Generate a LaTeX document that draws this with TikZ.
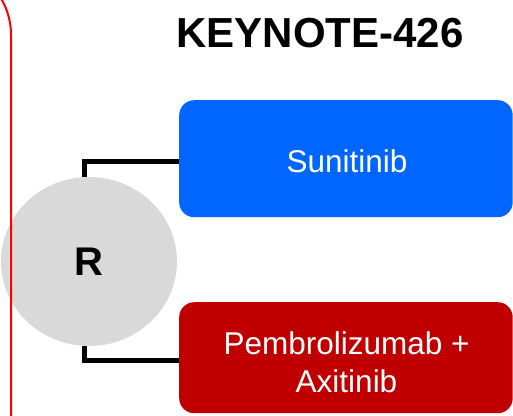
\documentclass[tikz,border=0pt]{standalone}
\usepackage{fontspec}
\setmainfont{Liberation Sans}
\usetikzlibrary{shapes.geometric}
\definecolor{armblue}{RGB}{0,102,255}
\definecolor{armred}{RGB}{192,0,0}
\definecolor{rgray}{RGB}{217,217,217}
\definecolor{framered}{RGB}{255,0,0}
\begin{document}
\begin{tikzpicture}[x=1pt,y=-1pt,
  arm/.style={rounded corners=15pt, minimum width=333.5pt, inner sep=0pt, draw=none},
  lbl/.style={text=white, font=\fontsize{31.5}{37.5}\selectfont, align=center, inner sep=0pt},
  link/.style={line width=4.5pt, black},
  rcircle/.style={ellipse, fill=rgray, minimum width=176pt, minimum height=169pt, inner sep=0pt, font=\bfseries\fontsize{40}{48}\selectfont},
  titletext/.style={font=\bfseries\fontsize{42}{50}\selectfont, anchor=base, inner sep=0pt},
  border/.style={framered, line width=2pt, rounded corners=72pt}]
\useasboundingbox (0,0) rectangle (513,415);
\clip (0,0) rectangle (513,415);
\node[arm, fill=armblue, minimum height=117pt, anchor=north west] (sun) at (179,100) {};
\node[arm, fill=armred, minimum height=111pt, anchor=north west] (pem) at (179,302) {};
\node[rcircle] (R) at (89,261.5) {R};
\node[lbl] (suntxt) at (347,161.7) {Sunitinib};
\node[lbl] (pemtxt) at (346.5,362.2) {Pembrolizumab +\\Axitinib};
\node[titletext] (title) at (320,47) {KEYNOTE-426};
\draw[link] ([xshift=-4.5pt]R.north) |- ([yshift=-3pt]sun.west);
\draw[link] ([xshift=-4.5pt]R.south) |- ([yshift=-3pt]pem.west);
\draw[border] (-300,-37) -- (11,-37) -- (11,800);
\end{tikzpicture}
\end{document}
